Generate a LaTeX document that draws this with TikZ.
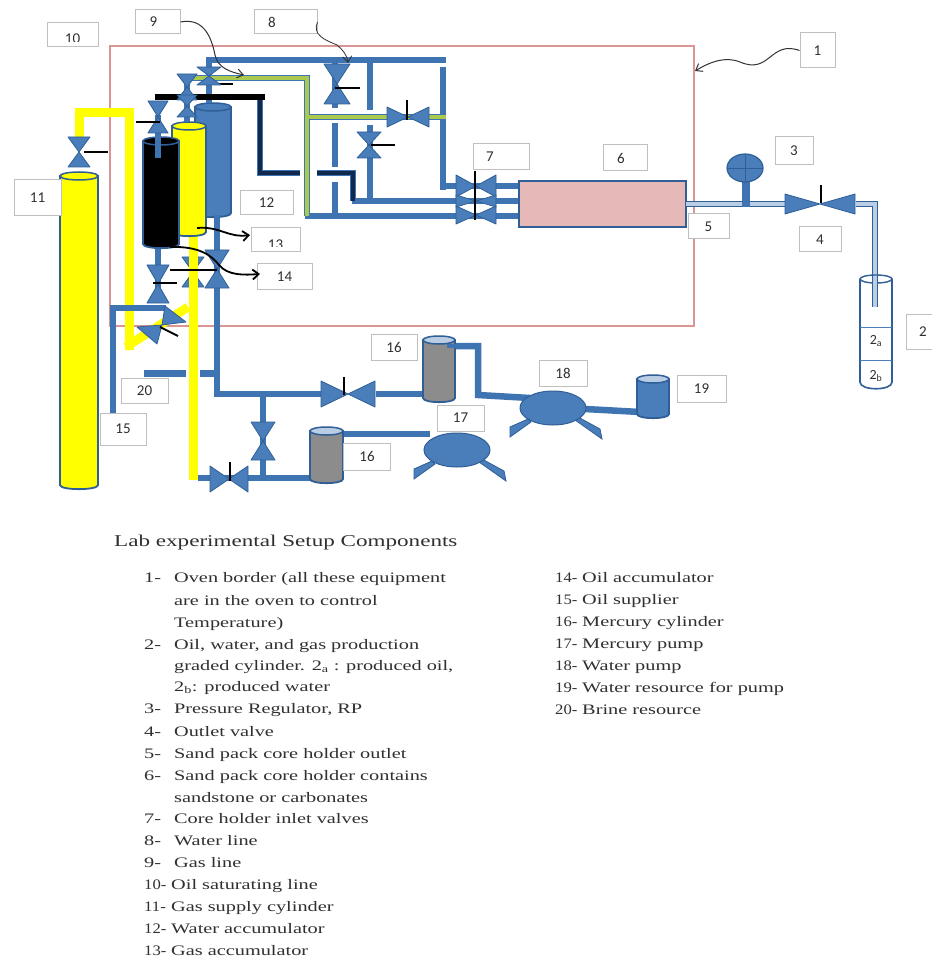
\documentclass[tikz,border=0pt]{standalone}
\usepackage{fontspec}
\setmainfont[FakeStretch=1.4]{Liberation Serif}
\newfontfamily\labfont{Carlito}
\newfontfamily\numfont[FakeStretch=1.15]{Liberation Serif}
\usetikzlibrary{arrows.meta}
\definecolor{pblue}{HTML}{3F74B2}
\definecolor{vblue}{HTML}{4A7EBB}
\definecolor{eblue}{HTML}{2F5F96}
\definecolor{lblue}{HTML}{B9CDE5}
\definecolor{ovenred}{HTML}{D99694}
\definecolor{pinkf}{HTML}{E6B8B7}
\definecolor{ygreen}{HTML}{A9C94F}
\definecolor{yel}{HTML}{FFFF00}
\definecolor{gboard}{HTML}{BFBFBF}
\definecolor{dnavy}{HTML}{10294D}
\definecolor{txt}{HTML}{303030}
\tikzset{
 pipe/.style={draw=pblue,line width=6.5pt},
 ypipe/.style={draw=yel,line width=9pt,line join=miter},
 lightpipe/.style={draw=eblue,line width=1.3pt,double=lblue,double distance=4pt},
 greenpipe/.style={draw=pblue,line width=1.3pt,double=ygreen,double distance=3.5pt},
 navypipe/.style={draw=pblue,line width=1.3pt,double=dnavy,double distance=3.2pt},
 valve/.style={fill=vblue,draw=eblue,line width=.8pt,line join=round},
 handle/.style={draw=black,line width=2pt},
 callout/.style={draw=black!80,line width=1pt,-{Straight Barb[length=6pt,width=9pt]}},
 callthick/.style={draw=black,line width=1.8pt,-{Straight Barb[length=6pt,width=10pt]}},
 labbox/.style={draw=gboard,fill=white,line width=1pt,inner sep=0pt,text=txt,font=\labfont\fontsize{15}{16}\selectfont},
 item/.style={anchor=base west,inner sep=0pt,text=txt,font=\fontsize{14.5}{16}\selectfont},
}
\newcommand{\vlv}[4]{\begin{scope}[shift={(#1,#2)}]
 \draw[valve] (-#3,-#4) -- (#3,#4) -- (#3,-#4) -- (-#3,#4) -- cycle;\end{scope}}
\newcommand{\vlvV}[4]{\begin{scope}[shift={(#1,#2)}]
 \draw[valve] (-#3,-#4) -- (#3,-#4) -- (-#3,#4) -- (#3,#4) -- cycle;\end{scope}}
\newcommand{\cyl}[6]{%
 \pgfmathsetmacro{\cxa}{#1}\pgfmathsetmacro{\cxb}{#3}%
 \pgfmathsetmacro{\cyt}{#2+4}\pgfmathsetmacro{\cyb}{#4-4}\pgfmathsetmacro{\cyc}{#4+1.5}%
 \pgfmathsetmacro{\cxm}{(#1+#3)/2}\pgfmathsetmacro{\crx}{(#3-#1)/2}%
 \draw[fill=#5,draw=eblue,line width=1.8pt] (\cxa,\cyt) -- (\cxa,\cyb) .. controls (\cxa,\cyc) and (\cxb,\cyc) .. (\cxb,\cyb) -- (\cxb,\cyt) -- cycle;
 \draw[fill=#6,draw=eblue,line width=1.5pt] (\cxm,\cyt) ellipse ({\crx} and 4);}
\newcommand{\pump}[2]{\begin{scope}[shift={(#1,#2)}]
 \fill[vblue,draw=eblue,line width=.8pt] (-43,19) -- (-25,11) -- (-22,14) -- (-43,29) -- cycle;
 \fill[vblue,draw=eblue,line width=.8pt] (25,9) -- (47,21) -- (49,31) -- (22,12) -- cycle;
 \fill[vblue,draw=eblue,line width=1pt] (0,0) ellipse (33 and 17);\end{scope}}
\begin{document}
\begin{tikzpicture}[x=1pt,y=-1pt]
\useasboundingbox (0,0) rectangle (931,957);
\fill[white] (0,0) rectangle (931,957);
% oven
\draw[ovenred,line width=1.3pt] (110,46) rectangle (694,326);
% gas cylinder 11 and yellow lines
\cyl{60}{172}{98}{489}{yel}{yel}
\draw[ypipe] (79,137) -- (79,113) -- (129,113) -- (129,350);
\draw[ypipe] (126,347) -- (188,307);
\draw[ypipe] (193,230) -- (193,480);
% water accumulator, oil accumulator, gas accumulator
\cyl{195}{103}{231}{217}{vblue}{vblue}
\cyl{172}{122}{206}{236}{yel}{yel}
% lines at the bottom of accumulators
\draw[pipe] (158,245) -- (158,300);
\draw[pipe] (217,215) -- (217,394) -- (322,394);
\draw[pipe] (376,394) -- (424,394);
\draw[pipe] (263,394) -- (263,478);
\draw[pipe] (198,478) -- (312,478);
\draw[pipe] (113,413) -- (113,308) -- (166,308);
\draw[pipe] (144,373.5) -- (186,373.5);
\draw[pipe] (200,373.5) -- (217,373.5);
% top network
\draw[pipe] (209,103) -- (209,60) -- (446,60);
\draw[pipe] (335,60) -- (335,108);
\draw[pipe] (370,60) -- (370,110);
\draw[pipe] (370,125) -- (370,202);
\draw[pipe] (335,123) -- (335,167);
\draw[pipe] (335,182) -- (335,216);
\draw[pipe] (443,67) -- (443,190);
\draw[pipe] (440,186) -- (519,186);
\draw[pipe] (352,201) -- (519,201);
\draw[pipe] (305,216) -- (519,216);
\draw[greenpipe] (187,78) -- (307,78) -- (307,216);
\draw[greenpipe] (309,117) -- (446,117);
\draw[navypipe] (260,97) -- (260,173) -- (300,173);
\draw[navypipe] (317,173) -- (353,173) -- (353,201);
\draw[pipe] (187,78) -- (187,122);
% black accumulator
\cyl{143}{137}{179}{248}{black}{black}
\draw[pipe] (158,115) -- (158,158);
\draw[draw=black,line width=6pt] (155,97) -- (265,97);
\draw[handle] (207,84) -- (233,84);
% valves on top of accumulators
\vlvV{209}{76}{12}{9}
\vlvV{187}{87}{10}{13}
\vlvV{187}{106}{10}{11}
\vlvV{158}{117}{10}{16}
\draw[handle] (136,122) -- (160,122);
% valve on line 11
\vlvV{79}{152}{11}{15}
\draw[handle] (84,152) -- (108,152);
% valves under accumulators
\vlvV{158}{284}{11}{19}
\draw[handle] (153,283) -- (177,283);
\vlvV{193}{272}{11}{15}
\draw[ypipe] (193,255) -- (193,295);
\vlvV{217}{269}{12}{19}
\draw[handle] (170,270) -- (217,270);
\draw[valve] (162,325) -- (165,306) -- (186,322) -- cycle;
\draw[valve] (162,325) -- (137,327) -- (157,344) -- cycle;
\draw[handle] (160,327) -- (178,336);
% lower valves
\vlv{348}{394}{27}{13}
\draw[handle] (344,377) -- (344,395);
\vlvV{263}{441}{12}{19}
\vlv{229}{479}{19}{13}
\draw[handle] (230,462) -- (230,481);
% water line valves
\vlvV{337}{84}{13}{20}
\draw[handle] (335,88) -- (360,88);
\vlv{408}{117}{21}{10}
\draw[handle] (407,100) -- (407,120);
\vlvV{369}{145}{12}{13}
\draw[handle] (371,145) -- (395,145);
% core holder
\draw[fill=pinkf,draw=eblue,line width=2pt] (519,181) rectangle (686,227);
% valves 7
\vlv{476}{186}{20}{11}
\vlv{476}{201}{20}{6}
\vlv{476}{215}{20}{9}
% outlet
\draw[lightpipe] (686,204) -- (785,204);
\draw[lightpipe] (856,204) -- (875,204) -- (875,307);
\draw[draw=pblue,line width=8pt] (746,180) -- (746,207);
\fill[vblue,draw=eblue,line width=1.2pt] (745,168) ellipse (18 and 14);
\draw[eblue,line width=.8pt] (727,168) -- (763,168) (745,154) -- (745,182);
\vlv{820}{204}{35}{10}
\draw[handle] (821,185) -- (821,203);
% graded cylinder
\draw[eblue,line width=1.6pt] (860,279) -- (860,382) .. controls (860,391) and (892,391) .. (892,382) -- (892,279);
\draw[eblue,line width=1.4pt] (876,279) ellipse (16 and 4);
\draw[lightpipe] (875,279) -- (875,307);
\draw[vblue,line width=.8pt] (860,327) -- (892,327) (860,360) -- (892,360);
\node[inner sep=0pt,text=txt,font=\labfont\fontsize{14}{15}\selectfont] (t2a) at (876,341) {2\textsubscript{a}};
\node[inner sep=0pt,text=txt,font=\labfont\fontsize{14}{15}\selectfont] (t2b) at (876,376) {2\textsubscript{b}};
% mercury cylinders, pumps
\draw[pipe] (447,346) -- (478,346) -- (478,395) -- (530,398);
\draw[pipe] (585,409) -- (640,412);
\draw[pipe] (343,434) -- (430,434);
\cyl{423}{336}{455}{402}{gray!90}{lblue}
\cyl{310}{427}{343}{483}{gray!90}{lblue}
\cyl{637}{375}{669}{418}{vblue}{lblue}
\draw[pipe,line width=4pt] (447,346) -- (460,346);
\pump{553}{408}
\pump{457}{450}
% labels
\node[labbox,minimum width=51pt,minimum height=24pt] (lab10) at (72.5,35) {\smash{\raisebox{-9pt}{10}}};
\fill[white] (48,42.5) rectangle (97,46);
\node[labbox,minimum width=35pt,minimum height=35pt] (lab1) at (817.5,50.5) {1};
\node[labbox,minimum width=45pt,minimum height=24pt] (lab9) at (157.5,22) {\makebox[0pt]{\hspace*{-8pt}9}};
\node[labbox,minimum width=63pt,minimum height=24pt] (lab8) at (285.5,22) {\makebox[0pt]{\hspace*{-27pt}8}};
\node[labbox,minimum width=47pt,minimum height=36pt] (lab11) at (37.5,198) {11};
\node[labbox,minimum width=53pt,minimum height=24pt] (lab12) at (266.5,203) {12};
\node[labbox,minimum width=49pt,minimum height=24pt] (lab13) at (275.5,240) {\smash{\raisebox{-9.5pt}{13}}};
\fill[white] (252,247.5) rectangle (299,251);
\node[labbox,minimum width=55pt,minimum height=25pt] (lab14) at (284.5,276.5) {14};
\node[labbox,minimum width=47pt,minimum height=25pt] (lab20) at (144.5,390.5) {20};
\node[labbox,minimum width=46pt,minimum height=32pt] (lab15) at (123,429) {15};
\node[labbox,minimum width=46pt,minimum height=26pt] (lab16a) at (394,347) {16};
\node[labbox,minimum width=47pt,minimum height=27pt] (lab16b) at (367,456.5) {16};
\node[labbox,minimum width=47pt,minimum height=26pt] (lab17) at (460.5,418) {17};
\node[labbox,minimum width=48pt,minimum height=26pt] (lab18) at (563,373) {18};
\node[labbox,minimum width=49pt,minimum height=27pt] (lab19) at (701.5,388.5) {19};
\node[labbox,minimum width=56pt,minimum height=26pt] (lab7) at (501,157) {\makebox[0pt]{\hspace*{-22pt}7}};
\node[labbox,minimum width=44pt,minimum height=26pt] (lab6) at (625,158) {\makebox[0pt]{\hspace*{-8pt}6}};
\node[labbox,minimum width=41pt,minimum height=25pt] (lab5) at (708.5,226.5) {5};
\node[labbox,minimum width=38pt,minimum height=28pt] (lab3) at (794,151) {3};
\node[labbox,minimum width=42pt,minimum height=25pt] (lab4) at (820,239.5) {4};
\node[labbox,minimum width=40pt,minimum height=35pt] (lab2) at (926,331.5) {\makebox[0pt]{\hspace*{-6pt}2}};
% handle of valves 7 above label
\draw[draw=black,line width=2pt] (475,171) -- (475,220);
% callouts
\coordinate (c1) at (695,71);
\coordinate (c9) at (244,75);
\coordinate (c8) at (348,63);
\coordinate (c13) at (250,235);
\coordinate (c14) at (260,274);
\draw[callout] (lab1.west) .. controls (770,40) and (770,75) .. (740,62) .. controls (725,56) and (710,62) .. (c1);
\draw[callout] (lab9.east) .. controls (205,17) and (212,40) .. (215,55) .. controls (218,68) and (230,72) .. (c9);
\draw[callout,line width=.8pt] (lab8.east) .. controls (312,35) and (325,40) .. (337,45) .. controls (343,50) and (347,55) .. (c8);
\draw[callthick] (197,228) .. controls (220,226) and (228,238) .. (c13);
\draw[callthick] (170,247) .. controls (200,246) and (212,256) .. (219,265) .. controls (228,276) and (245,275) .. (c14);
% title and list
\begin{scope}[yshift=-1pt]
\node[anchor=base west,inner sep=0pt,text=txt,font=\fontsize{16.5}{18}\selectfont] (title) at (114,545) {Lab experimental Setup Components};
\newcommand{\one}[1]{\makebox[30pt][l]{#1}}
\newcommand{\two}[1]{\makebox[27pt][l]{\numfont #1}}
\node[item] (i1) at (144,581) {\one{1-}Oven border (all these equipment};
\node[item] (i1b) at (174,604) {are in the oven to control};
\node[item] (i1c) at (174,626) {Temperature)};
\node[item] (i2) at (144,648) {\one{2-}Oil, water, and gas production};
\node[item] (i2b) at (174,669) {graded cylinder. 2\textsubscript{a} : produced oil,};
\node[item] (i2c) at (174,690) {2\textsubscript{b}: produced water};
\node[item] (i3) at (144,712) {\one{3-}Pressure Regulator, RP};
\node[item] (i4) at (144,735) {\one{4-}Outlet valve};
\node[item] (i5) at (144,757) {\one{5-}Sand pack core holder outlet};
\node[item] (i6) at (144,779) {\one{6-}Sand pack core holder contains};
\node[item] (i6b) at (174,801) {sandstone or carbonates};
\node[item] (i7) at (144,822) {\one{7-}Core holder inlet valves};
\node[item] (i8) at (144,844) {\one{8-}Water line};
\node[item] (i9) at (144,866) {\one{9-}Gas line};
\node[item] (i10) at (144,888) {\two{10-}Oil saturating line};
\node[item] (i11) at (144,910) {\two{11-}Gas supply cylinder};
\node[item] (i12) at (144,932) {\two{12-}Water accumulator};
\node[item] (i13) at (144,954) {\two{13-}Gas accumulator};
\node[item] (i14) at (555,581) {\two{14-}Oil accumulator};
\node[item] (i15) at (555,603) {\two{15-}Oil supplier};
\node[item] (i16) at (555,625) {\two{16-}Mercury cylinder};
\node[item] (i17) at (555,647) {\two{17-}Mercury pump};
\node[item] (i18) at (555,669) {\two{18-}Water pump};
\node[item] (i19) at (555,691) {\two{19-}Water resource for pump};
\node[item] (i20) at (555,713) {\two{20-}Brine resource};
\end{scope}
\end{tikzpicture}
\end{document}
